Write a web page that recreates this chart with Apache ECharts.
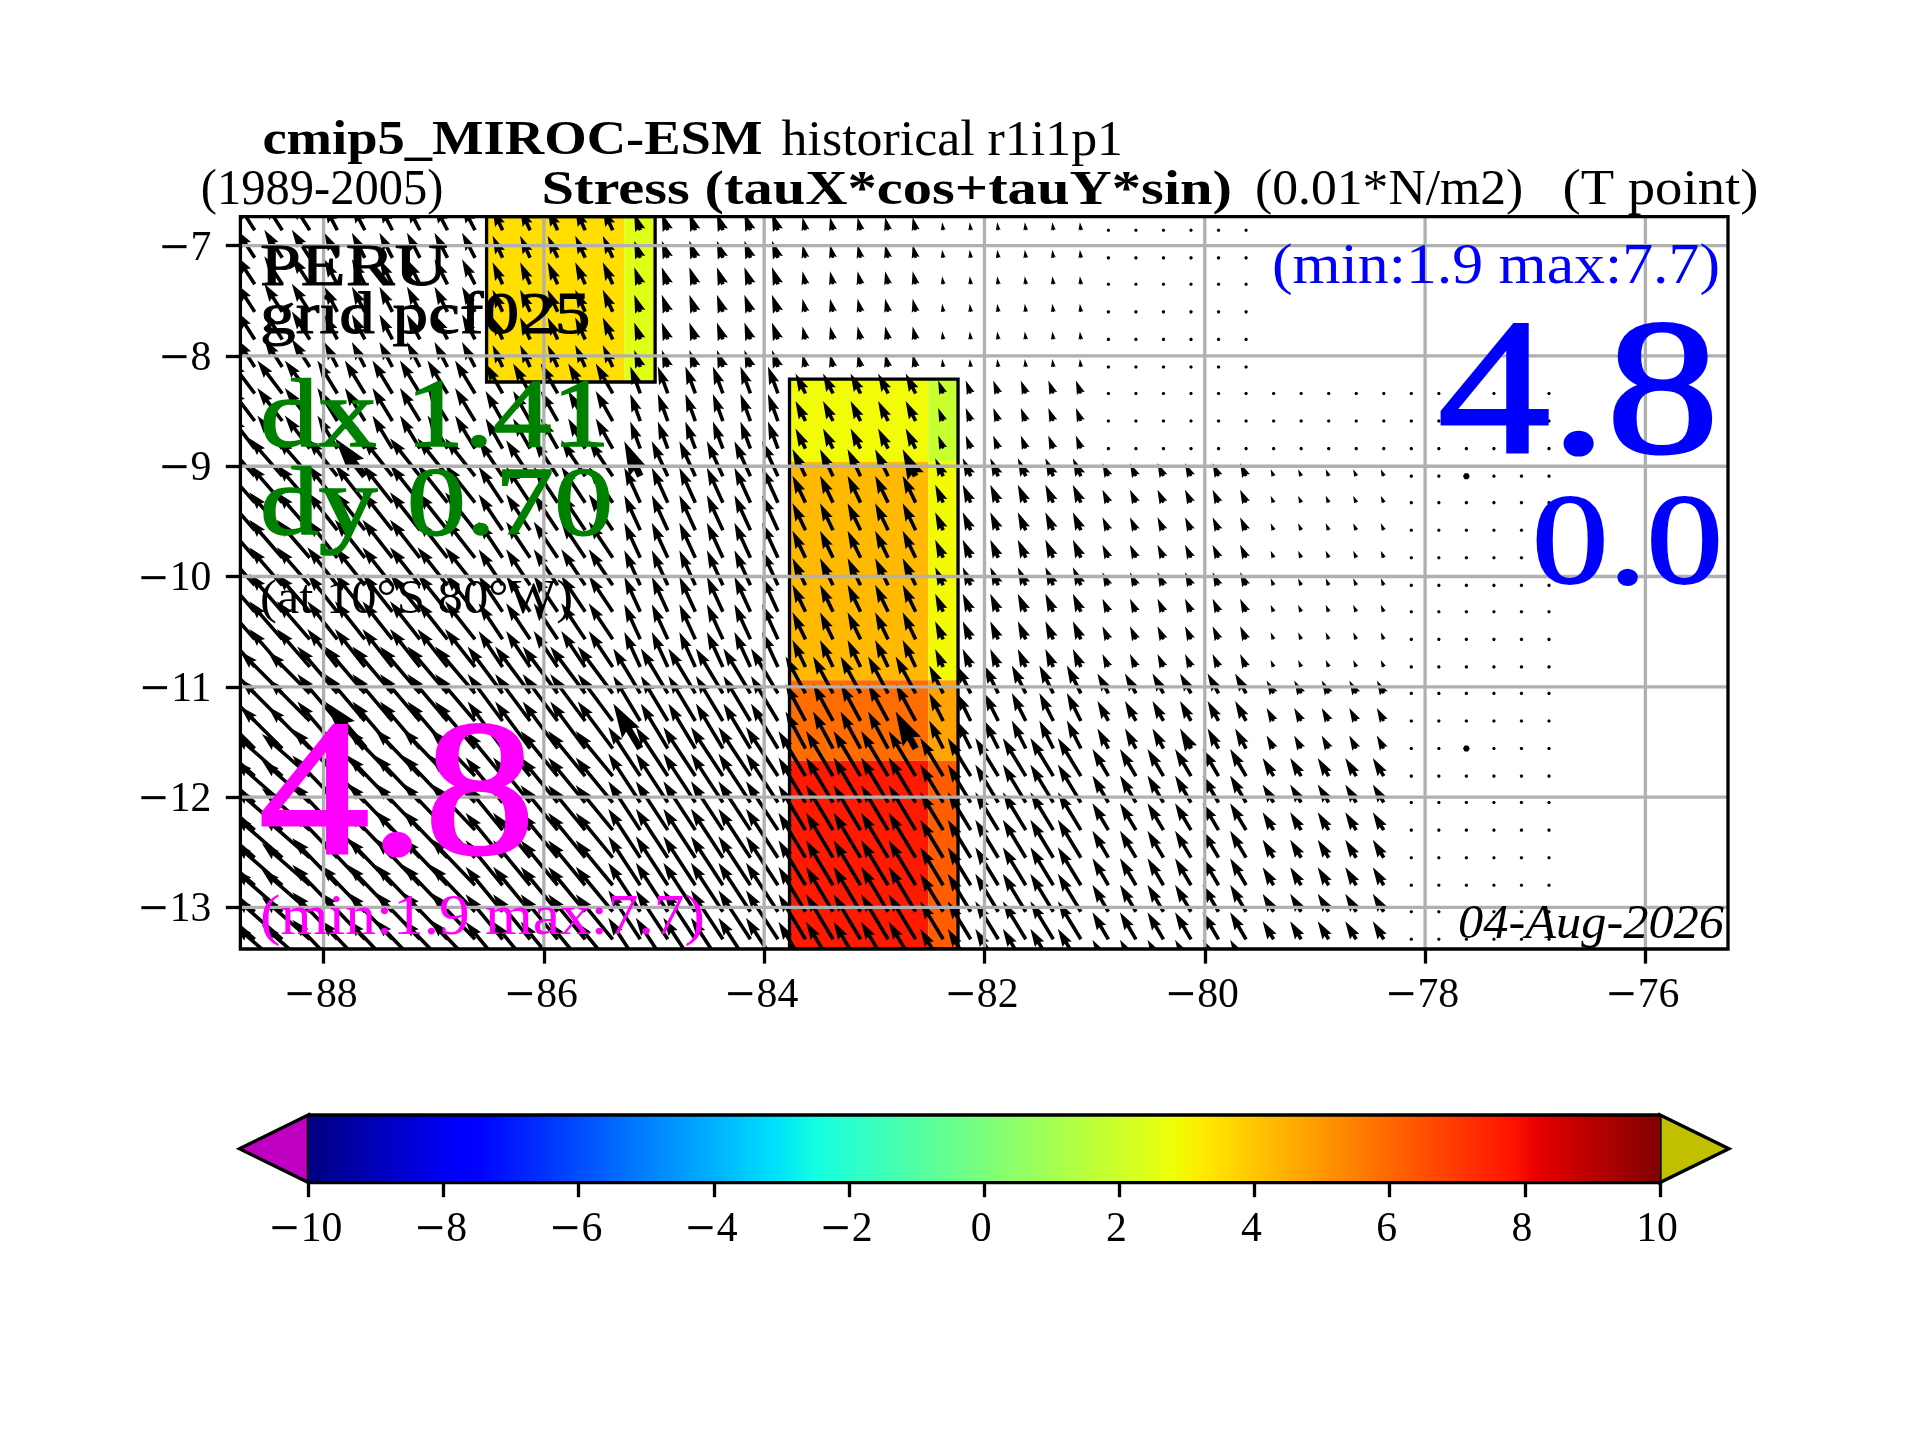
<!DOCTYPE html>
<html><head><meta charset="utf-8">
<style>html,body{margin:0;padding:0;background:#fff}#c{width:1920px;height:1440px}</style>
<script src="https://cdn.jsdelivr.net/npm/echarts@6/dist/echarts.min.js"></script>
</head><body><div id="c"></div>
<script>
// ---- axes ----
const lonTicks = [-88,-86,-84,-82,-80,-78,-76];
const latTicks = [-13,-12,-11,-10,-9,-8,-7];
const lonRange = [-88.755,-75.25];
const latRange = [-13.378,-6.737];
const barTicks = [-10,-8,-6,-4,-2,0,2,4,6,8,10];
// ---- vector field sample positions ----
const arrowLons = [-88.625,-88.375,-88.125,-87.875,-87.625,-87.375,-87.125,-86.875,-86.625,-86.375,-86.125,-85.875,-85.625,-85.375,-85.125,-84.875,-84.625,-84.375,-84.125,-83.875,-83.625,-83.375,-83.125,-82.875,-82.625,-82.375,-82.125,-81.875,-81.625,-81.375,-81.125,-80.875,-80.625,-80.375,-80.125,-79.875,-79.625,-79.375,-79.125,-78.875,-78.625,-78.375,-78.125,-77.875,-77.625,-77.375,-77.125,-76.875];
const arrowLats = [-6.86,-7.11,-7.35,-7.60,-7.85,-8.10,-8.34,-8.59,-8.84,-9.09,-9.33,-9.58,-9.83,-10.08,-10.32,-10.57,-10.82,-11.06,-11.31,-11.56,-11.81,-12.05,-12.30,-12.55,-12.80,-13.04,-13.29,-13.54];
// number of samples covered by each coarse source cell
const lonCellSizes = [3,6,5,6,5,6,6,5,6];
const latCellSizes = [6,3,8,3,8];
// vector components per coarse cell: [lat cell][lon cell]; null = land / no data
const tauU = [
 [-3.6,-2.6,-2.0,-1.2,-0.6,-0.2,0,null,null],
 [-5.0,-4.0,-3.4,-2.0,-2.0,-1.0,0,0,0],
 [-6.6,-6.0,-4.8,-3.2,-2.6,-1.6,-1.2,-0.6,0],
 [-8.4,-8.0,-7.0,-5.4,-4.0,-2.8,-2.2,-1.4,0],
 [-9.6,-9.0,-7.4,-6.4,-5.4,-4.6,-3.2,-2.2,0]
];
const tauV = [
 [5.6,5.0,4.4,3.4,2.6,1.6,0,null,null],
 [6.6,6.6,6.0,5.4,4.0,2.6,0,0,0],
 [7.6,7.6,7.2,7.0,5.4,3.6,2.6,1.4,0],
 [8.4,9.4,9.4,9.0,7.4,5.6,4.0,2.6,0],
 [8.4,9.4,9.0,9.8,9.0,7.6,5.4,3.6,0]
];
// samples drawn twice as heavy
const heavyLons = [-87.625,-85.125,-82.625,-80.125,-77.625];
const heavyLats = [-9.09,-11.56];
// ---- shaded cells: west, east, south, north, value ----
const cellWest  = [-86.52,-85.27,-83.77,-82.51,-83.77,-82.51,-83.77,-82.51,-83.77,-82.51];
const cellEast  = [-85.27,-84.99,-82.51,-82.24,-82.51,-82.24,-82.51,-82.24,-82.51,-82.24];
const cellSouth = [-8.236,-8.236,-8.96,-8.96,-10.94,-10.94,-11.67,-11.67,-13.378,-13.378];
const cellNorth = [-6.737,-6.737,-8.21,-8.21,-8.96,-8.96,-10.94,-10.94,-11.67,-11.67];
const cellValue = [3.5,2.46,2.86,1.85,4.28,2.9,5.9,4.75,7.67,6.23];
// outlined boxes: west, east, south, north
const boxes = [[-86.52,-84.99,-8.236,-6.737],[-83.77,-82.24,-13.378,-8.21]];
// ---- colour map ----
const jetOffsets = [0,.11,.125,.34,.35,.375,.64,.65,.66,.89,.91,1];
const jetColors = ['#000080','#0000ff','#0000ff','#00dbff','#00e6f7','#14ffe2','#eeff08','#f7f600','#ffec00','#ff1300','#e80000','#800000'];
const underColor = '#c000c0', overColor = '#c0c000';
const barRange = [-10,10], barExtend = 1.02;

const serif = '"Liberation Serif","DejaVu Serif",serif';
const ctx = document.createElement('canvas').getContext('2d');
function hex(c){return [1,3,5].map(i=>parseInt(c.substr(i,2),16));}
function jet(v){
  const t=(v-barRange[0])/(barRange[1]-barRange[0]);
  for(let i=1;i<jetOffsets.length;i++){ if(t<=jetOffsets[i]){
    const f=(t-jetOffsets[i-1])/(jetOffsets[i]-jetOffsets[i-1]),a=hex(jetColors[i-1]),b=hex(jetColors[i]);
    return 'rgb('+a.map((x,k)=>Math.round(x+(b[k]-x)*f)).join(',')+')';}}
  return jetColors[jetColors.length-1];
}
// ---- texts: string, font, colour, left, right, baseline ----
const texts = [
 ['cmip5_MIROC-ESM','bold',48,'#000',262.4,762.4,154.5],
 ['historical r1i1p1','',50,'#000',781.6,1123,154.5],
 ['(1989-2005)','',50,'#000',200.8,443.3,204],
 ['Stress (tauX*cos+tauY*sin)','bold',48,'#000',541.4,1232,204],
 ['(0.01*N/m2)','',50,'#000',1255,1523.3,204],
 ['(T point)','',50,'#000',1562.5,1758.4,204],
 ['PERU','',60,'#000',260,447.7,285],
 ['grid pcf025','',60,'#000',260,590.5,333],
 ['dx 1.41','',98,'#008000',260,610,446],
 ['dy 0.70','',98,'#008000',260,613,534],
 ['(at 10\u00b0S 80\u00b0W)','',48,'#000',260,573,613],
 ['4.8','',192,'#ff00ff',259,535,852.7],
 ['(min:1.9 max:7.7)','',58,'#ff00ff',260,705,934],
 ['(min:1.9 max:7.7)','',58,'#0000ff',1272,1720,283.3],
 ['4.8','',192,'#0000ff',1438,1719,451.7],
 ['0.0','',130,'#0000ff',1532,1723,583],
 ['04-Aug-2026','italic',48,'#000',1458,1724,938]
];
const graphicTexts = texts.map(([s,st,size,col,l,r,b])=>{
  const font=(st?st+' ':'')+size+'px '+serif;
  ctx.font=font;
  const style={text:s,font:font,fill:col,textAlign:'left',textVerticalAlign:'middle',x:0,y:0};
  if(size>=60){style.stroke=col;style.lineWidth=size*0.016;}
  return {type:'text',z:100,x:l,y:b-0.26*size,scaleX:(r-l)/ctx.measureText(s).width,silent:true,style:style};
});

// ---- build arrow records ----
const arrowData=[];
let ri=0;
latCellSizes.forEach((nr,rb)=>{
  for(let a=0;a<nr;a++,ri++){
    let ci=0;
    lonCellSizes.forEach((nc,cb)=>{
      for(let b=0;b<nc;b++,ci++){
        if(tauU[rb][cb]===null) continue;
        const heavy=heavyLons.includes(arrowLons[ci])&&heavyLats.includes(arrowLats[ri])?1:0;
        arrowData.push([arrowLons[ci],arrowLats[ri],tauU[rb][cb],tauV[rb][cb],heavy]);
      }
    });
  }
});
const pxPerUnit=5, baseWidth=3.6;
function arrowItem(params,api){
  const p=api.coord([api.value(0),api.value(1)]);
  const u=api.value(2)*pxPerUnit,v=api.value(3)*pxPerUnit,w=baseWidth*(api.value(4)?1.9:1);
  const L=Math.hypot(u,v)/w;
  let pts;
  if(L<1){
    pts=[];for(let i=0;i<6;i++){const a=i*Math.PI/3;pts.push([p[0]+.5*w*Math.cos(a),p[1]+.5*w*Math.sin(a)]);}
  } else {
    const hl=5,hw=3,ax=4.5,minsh=5,s=Math.min(L/minsh,1),LL=Math.max(L,minsh);
    const X=[0,LL-ax,LL-hl,LL,LL-hl,LL-ax,0].map(x=>x*s*w);
    const Y=[.5,.5,hw/2,0,-hw/2,-.5,-.5].map(y=>y*s*w);
    const c=u/(L*w),d=-v/(L*w);
    pts=X.map((x,i)=>[p[0]+x*c-Y[i]*d,p[1]+x*d+Y[i]*c]);
  }
  return {type:'polygon',shape:{points:pts},style:{fill:'#000'}};
}
const cellData=cellValue.map((v,i)=>[cellWest[i],cellEast[i],cellSouth[i],cellNorth[i],v]);

function tickText(v){return v<0?'{m|\u2212}{d|'+(-v)+'}':'{d|'+v+'}';}
const tickRich={m:{fontFamily:'"DejaVu Serif"',fontSize:38.7,color:'#000'},d:{fontFamily:serif,fontSize:41.7,color:'#000'}};

const option={
  animation:false,backgroundColor:'#fff',
  textStyle:{fontFamily:serif},
  grid:[
    {left:240.4,top:216.7,width:1487.6,height:732.3},
    {left:308.4,top:1115,width:1351.6,height:67.6}
  ],
  xAxis:[
    {gridIndex:0,type:'value',min:lonRange[0],max:lonRange[1],splitLine:{show:false},axisLine:{show:false},
     axisTick:{show:true,customValues:lonTicks,length:14.6,lineStyle:{width:3.3,color:'#000'}},
     axisLabel:{customValues:lonTicks,margin:26,padding:[0,6,0,0],formatter:tickText,rich:tickRich}},
    {gridIndex:1,type:'value',min:barRange[0],max:barRange[1],splitLine:{show:false},axisLine:{show:false},
     axisTick:{show:true,customValues:barTicks,length:14.6,lineStyle:{width:3.3,color:'#000'}},
     axisLabel:{customValues:barTicks,margin:26,padding:[0,6,0,0],formatter:tickText,rich:tickRich}}
  ],
  yAxis:[
    {gridIndex:0,type:'value',min:latRange[0],max:latRange[1],splitLine:{show:false},axisLine:{show:false},
     axisTick:{show:true,customValues:latTicks,length:14.6,lineStyle:{width:3.3,color:'#000'}},
     axisLabel:{customValues:latTicks,margin:29,padding:[6,0,0,0],formatter:tickText,rich:tickRich}},
    {gridIndex:1,type:'value',min:0,max:1,show:false}
  ],
  graphic:{elements:graphicTexts},
  series:[
    {type:'custom',name:'cells',z:1,xAxisIndex:0,yAxisIndex:0,clip:true,silent:true,data:cellData,
     encode:{x:[0,1],y:[2,3]},
     renderItem(params,api){
       const a=api.coord([api.value(0),api.value(3)]),b=api.coord([api.value(1),api.value(2)]);
       return {type:'rect',shape:{x:a[0],y:a[1],width:b[0]-a[0],height:b[1]-a[1]},style:{fill:jet(api.value(4))}};
     }},
    {type:'custom',name:'boxes',z:2,xAxisIndex:0,yAxisIndex:0,clip:true,silent:true,data:boxes,
     encode:{x:[0,1],y:[2,3]},
     renderItem(params,api){
       const a=api.coord([api.value(0),api.value(3)]),b=api.coord([api.value(1),api.value(2)]);
       return {type:'rect',shape:{x:a[0],y:a[1],width:b[0]-a[0],height:b[1]-a[1]},style:{fill:'none',stroke:'#000',lineWidth:3.3}};
     }},
    {type:'custom',name:'stress',z:3,xAxisIndex:0,yAxisIndex:0,clip:true,silent:true,data:arrowData,
     encode:{x:0,y:1},renderItem:arrowItem},
    {type:'custom',name:'grid',z:4,xAxisIndex:0,yAxisIndex:0,silent:true,data:[[0]],
     renderItem(params,api){
       const kids=[];
       lonTicks.forEach(x=>{const a=api.coord([x,latRange[0]]),b=api.coord([x,latRange[1]]);
         kids.push({type:'line',shape:{x1:a[0],y1:a[1],x2:b[0],y2:b[1]},style:{stroke:'#b0b0b0',lineWidth:3.3}});});
       latTicks.forEach(y=>{const a=api.coord([lonRange[0],y]),b=api.coord([lonRange[1],y]);
         kids.push({type:'line',shape:{x1:a[0],y1:a[1],x2:b[0],y2:b[1]},style:{stroke:'#b0b0b0',lineWidth:3.3}});});
       const tl=api.coord([lonRange[0],latRange[1]]),br=api.coord([lonRange[1],latRange[0]]);
       kids.push({type:'rect',shape:{x:tl[0],y:tl[1],width:br[0]-tl[0],height:br[1]-tl[1]},style:{fill:'none',stroke:'#000',lineWidth:3.3}});
       return {type:'group',children:kids};
     }},
    {type:'custom',name:'colorbar',z:2,xAxisIndex:1,yAxisIndex:1,silent:true,data:[[barRange[0],barRange[1]]],
     encode:{x:[0,1]},
     renderItem(params,api){
       const a=api.coord([barRange[0],1]),b=api.coord([barRange[1],0]);
       const m=(a[1]+b[1])/2;
       const tipL=api.coord([barRange[0]-barExtend,.5])[0],tipR=api.coord([barRange[1]+barExtend,.5])[0];
       const grad=new echarts.graphic.LinearGradient(0,0,1,0,jetOffsets.map((o,i)=>({offset:o,color:jetColors[i]})));
       const edge={stroke:'#000',lineWidth:3.3,lineJoin:'miter'};
       return {type:'group',children:[
         {type:'polygon',shape:{points:[[tipL,m],[a[0],a[1]],[a[0],b[1]]]},style:Object.assign({fill:underColor},edge)},
         {type:'polygon',shape:{points:[[tipR,m],[b[0],a[1]],[b[0],b[1]]]},style:Object.assign({fill:overColor},edge)},
         {type:'rect',shape:{x:a[0],y:a[1],width:b[0]-a[0],height:b[1]-a[1]},style:{fill:grad}},
         {type:'line',shape:{x1:a[0],y1:a[1],x2:b[0],y2:a[1]},style:{stroke:'#000',lineWidth:3.3}},
         {type:'line',shape:{x1:a[0],y1:b[1],x2:b[0],y2:b[1]},style:{stroke:'#000',lineWidth:3.3}}
       ]};
     }}
  ]
};
const chart=echarts.init(document.getElementById('c'),null,{width:1920,height:1440,renderer:'canvas'});
chart.setOption(option);
</script></body></html>
